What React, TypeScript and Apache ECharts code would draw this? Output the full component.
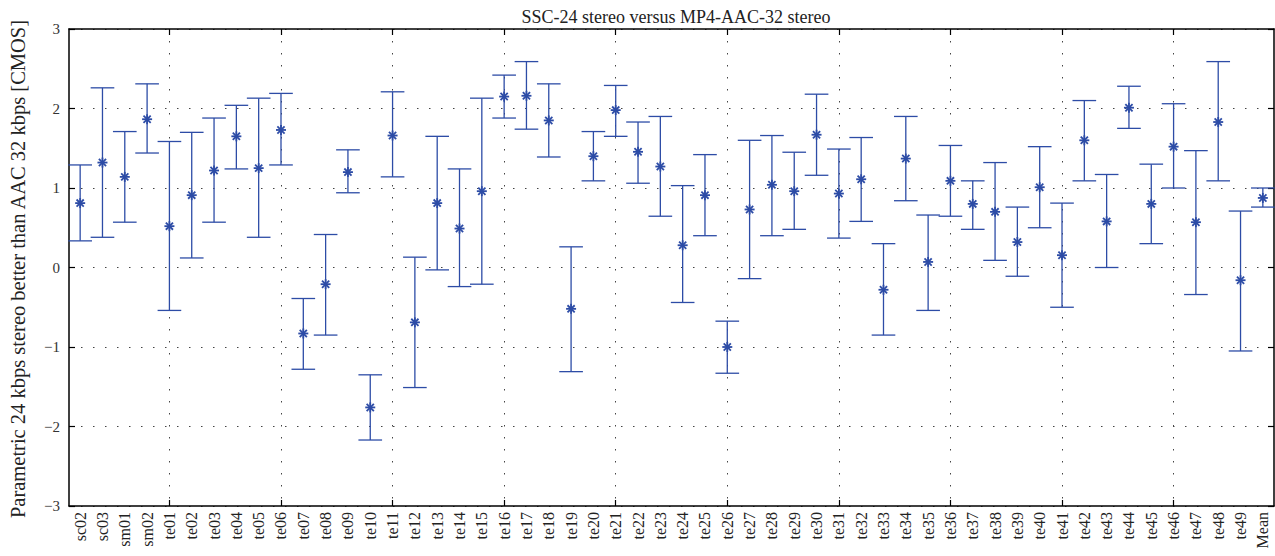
import React, { useEffect, useRef } from "react";
import * as echarts from "echarts";

const categories = [
  "sc02", "sc03", "sm01", "sm02",
  "te01", "te02", "te03", "te04", "te05", "te06", "te07", "te08", "te09", "te10",
  "te11", "te12", "te13", "te14", "te15", "te16", "te17", "te18", "te19", "te20",
  "te21", "te22", "te23", "te24", "te25", "te26", "te27", "te28", "te29", "te30",
  "te31", "te32", "te33", "te34", "te35", "te36", "te37", "te38", "te39", "te40",
  "te41", "te42", "te43", "te44", "te45", "te46", "te47", "te48", "te49", "Mean",
];

const means = [
  0.81, 1.32, 1.14, 1.865,
  0.52, 0.91, 1.22, 1.65, 1.25, 1.73, -0.83, -0.21, 1.2, -1.76,
  1.66, -0.69, 0.81, 0.49, 0.96, 2.15, 2.16, 1.85, -0.52, 1.4,
  1.98, 1.455, 1.27, 0.28, 0.91, -1.0, 0.73, 1.04, 0.96, 1.67,
  0.93, 1.11, -0.28, 1.37, 0.07, 1.09, 0.8, 0.7, 0.32, 1.01,
  0.155, 1.6, 0.58, 2.01, 0.8, 1.52, 0.57, 1.83, -0.16, 0.875,
];

const lowers = [
  0.335, 0.38, 0.57, 1.44,
  -0.54, 0.12, 0.57, 1.24, 0.38, 1.29, -1.28, -0.85, 0.94, -2.17,
  1.14, -1.51, -0.03, -0.24, -0.21, 1.88, 1.74, 1.39, -1.31, 1.09,
  1.65, 1.06, 0.645, -0.44, 0.4, -1.33, -0.14, 0.4, 0.48, 1.16,
  0.37, 0.58, -0.85, 0.84, -0.54, 0.645, 0.48, 0.09, -0.11, 0.5,
  -0.5, 1.09, 0.0, 1.75, 0.3, 1.0, -0.34, 1.09, -1.05, 0.76,
];

const uppers = [
  1.29, 2.26, 1.71, 2.31,
  1.585, 1.7, 1.88, 2.04, 2.13, 2.19, -0.39, 0.415, 1.48, -1.35,
  2.21, 0.13, 1.65, 1.24, 2.13, 2.42, 2.59, 2.31, 0.26, 1.71,
  2.29, 1.83, 1.9, 1.03, 1.42, -0.675, 1.6, 1.66, 1.45, 2.18,
  1.49, 1.635, 0.3, 1.9, 0.66, 1.535, 1.09, 1.32, 0.76, 1.52,
  0.81, 2.1, 1.17, 2.28, 1.3, 2.06, 1.47, 2.59, 0.71, 1.0,
];

const TITLE = "SSC-24 stereo versus MP4-AAC-32 stereo";
const Y_NAME = "Parametric 24 kbps stereo better than AAC 32 kbps [CMOS]";
const Y_MIN = -3;
const Y_MAX = 3;

const BLUE = "#2d4ca6";
const FONT = "Liberation Serif";
const gridEvery = (i: number) => i % 5 === 4;

export default function App() {
  const ref = useRef<HTMLDivElement>(null);

  useEffect(() => {
    if (!ref.current) return;
    const chart = echarts.init(ref.current, null, { renderer: "svg" });

    const data = categories.map((_, i) => [i, lowers[i], means[i], uppers[i]]);

    const dotted = { type: [1.5, 10.5] as any, color: "#444", width: 1 };
    const frame = { color: "#000", width: 1.5 };
    const tickStyle = { color: "#000", width: 1.2 };

    const option: any = {
      animation: false,
      backgroundColor: "#fff",
      title: {
        text: TITLE,
        left: 671,
        textAlign: "center",
        top: 3,
        textStyle: { fontFamily: FONT, fontSize: 18, fontWeight: "normal", color: "#222" },
      },
      grid: { left: 69, right: 1, top: 29, bottom: 50, containLabel: false },
      xAxis: [
        {
          type: "category",
          data: categories,
          position: "bottom",
          boundaryGap: true,
          axisLine: { show: true, onZero: false, lineStyle: frame },
          axisTick: {
            show: true,
            inside: true,
            alignWithLabel: true,
            interval: (i: number) => gridEvery(i),
            length: 6,
            lineStyle: tickStyle,
          },
          axisLabel: {
            interval: 0,
            rotate: 90,
            margin: 6,
            fontFamily: FONT,
            fontSize: 16,
            color: "#222",
          },
          splitLine: {
            show: true,
            alignWithLabel: true,
            interval: (i: number) => gridEvery(i),
            lineStyle: dotted,
          },
        },
        {
          type: "category",
          data: categories,
          position: "top",
          boundaryGap: true,
          axisLine: { show: true, onZero: false, lineStyle: frame },
          axisTick: {
            show: true,
            inside: true,
            alignWithLabel: true,
            interval: (i: number) => gridEvery(i),
            length: 6,
            lineStyle: tickStyle,
          },
          axisLabel: { show: false },
          splitLine: { show: false },
        },
      ],
      yAxis: [
        {
          type: "value",
          min: Y_MIN,
          max: Y_MAX,
          interval: 1,
          position: "left",
          axisLine: { show: true, onZero: false, lineStyle: frame },
          axisTick: { show: true, inside: true, length: 6, lineStyle: tickStyle },
          axisLabel: {
            margin: 9,
            fontFamily: FONT,
            fontSize: 15,
            color: "#333",
            formatter: (v: number) => (v < 0 ? "\u2212" + Math.abs(v) : String(v)),
          },
          splitLine: { show: true, lineStyle: dotted },
        },
        {
          type: "value",
          min: Y_MIN,
          max: Y_MAX,
          interval: 1,
          position: "right",
          axisLine: { show: true, onZero: false, lineStyle: frame },
          axisTick: { show: true, inside: true, length: 6, lineStyle: tickStyle },
          axisLabel: { show: false },
          splitLine: { show: false },
        },
      ],
      graphic: [
        {
          type: "text",
          x: 18,
          y: 269,
          rotation: Math.PI / 2,
          style: {
            text: Y_NAME,
            font: `20.5px "${FONT}"`,
            fill: "#222",
            textAlign: "center",
            textVerticalAlign: "middle",
          },
        },
      ],
      series: [
        {
          type: "custom",
          xAxisIndex: 0,
          yAxisIndex: 0,
          data,
          renderItem: (params: any, api: any) => {
            const i = api.value(0);
            const lo = api.coord([i, api.value(1)]);
            const mid = api.coord([i, api.value(2)]);
            const hi = api.coord([i, api.value(3)]);
            const half = api.size([1, 0])[0] * 0.53;
            const style = { stroke: BLUE, lineWidth: 1.3 };
            const mstyle = { stroke: BLUE, lineWidth: 1.8 };
            const m = 5;
            const d = 3.6;
            return {
              type: "group",
              children: [
                { type: "line", shape: { x1: hi[0], y1: hi[1], x2: lo[0], y2: lo[1] }, style },
                { type: "line", shape: { x1: hi[0] - half, y1: hi[1], x2: hi[0] + half, y2: hi[1] }, style },
                { type: "line", shape: { x1: lo[0] - half, y1: lo[1], x2: lo[0] + half, y2: lo[1] }, style },
                { type: "line", shape: { x1: mid[0] - m, y1: mid[1], x2: mid[0] + m, y2: mid[1] }, style: mstyle },
                { type: "line", shape: { x1: mid[0], y1: mid[1] - m, x2: mid[0], y2: mid[1] + m }, style: mstyle },
                { type: "line", shape: { x1: mid[0] - d, y1: mid[1] - d, x2: mid[0] + d, y2: mid[1] + d }, style: mstyle },
                { type: "line", shape: { x1: mid[0] - d, y1: mid[1] + d, x2: mid[0] + d, y2: mid[1] - d }, style: mstyle },
              ],
            };
          },
        },
      ],
    };

    chart.setOption(option);
    return () => chart.dispose();
  }, []);

  return (
    <div
      ref={ref}
      style={{ position: "fixed", left: 0, top: 0, width: 1275, height: 556, background: "#fff" }}
    />
  );
}
